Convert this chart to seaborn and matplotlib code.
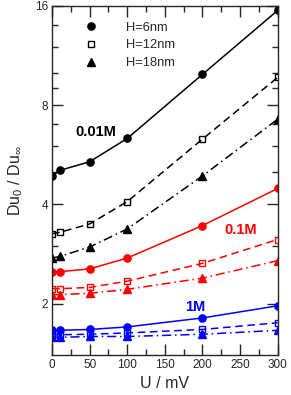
import matplotlib
matplotlib.use("Agg")
import matplotlib.pyplot as plt
from matplotlib.lines import Line2D
import matplotlib.ticker as ticker
import seaborn as sns
import pandas as pd

# applied voltage U (mV)
u_mv = [0, 10, 50, 100, 200, 300]

# Du_0 / Du_inf, 0.01M
c001_h6 = [4.88, 5.07, 5.39, 6.34, 9.92, 15.5]
c001_h12 = [3.26, 3.29, 3.49, 4.08, 6.31, 9.71]
c001_h18 = [2.75, 2.78, 2.97, 3.37, 4.88, 7.25]
# 0.1M
c01_h6 = [2.49, 2.50, 2.55, 2.75, 3.45, 4.47]
c01_h12 = [2.22, 2.22, 2.24, 2.34, 2.65, 3.13]
c01_h18 = [2.13, 2.13, 2.15, 2.21, 2.39, 2.70]
# 1M
c1_h6 = [1.66, 1.66, 1.67, 1.70, 1.81, 1.97]
c1_h12 = [1.61, 1.61, 1.615, 1.63, 1.67, 1.75]
c1_h18 = [1.58, 1.58, 1.59, 1.59, 1.615, 1.66]

conc_labels = ['0.01M', '0.1M', '1M']
h_labels = ['H=6nm', 'H=12nm', 'H=18nm']

series = {
    ('0.01M', 'H=6nm'): c001_h6, ('0.01M', 'H=12nm'): c001_h12, ('0.01M', 'H=18nm'): c001_h18,
    ('0.1M', 'H=6nm'): c01_h6, ('0.1M', 'H=12nm'): c01_h12, ('0.1M', 'H=18nm'): c01_h18,
    ('1M', 'H=6nm'): c1_h6, ('1M', 'H=12nm'): c1_h12, ('1M', 'H=18nm'): c1_h18,
}

colors = {'0.01M': 'black', '0.1M': '#ff0000', '1M': '#0000ff'}
styles = {
    'H=6nm': dict(linestyle='-', marker='o', markersize=5.2, fill=True),
    'H=12nm': dict(linestyle=(0, (5, 3)), marker='s', markersize=4.6, fill=False),
    'H=18nm': dict(linestyle=(0, (6, 2.5, 1, 2.5)), marker='^', markersize=5.2, fill=True),
}

sns.set_style("ticks")
plt.rcParams['font.family'] = ['Liberation Sans', 'DejaVu Sans']
plt.rcParams['mathtext.fontset'] = 'custom'
plt.rcParams['mathtext.rm'] = 'Liberation Sans'
plt.rcParams['mathtext.it'] = 'Liberation Sans'

fig = plt.figure(figsize=(2.91, 3.95), dpi=100)
ax = fig.add_axes([0.179, 0.102, 0.775, 0.883])

for conc in conc_labels:
    for h in h_labels:
        st = styles[h]
        c = colors[conc]
        df = pd.DataFrame({'U': u_mv, 'Du': series[(conc, h)]})
        sns.lineplot(data=df, x='U', y='Du', ax=ax, color=c, linewidth=1.1,
                     linestyle=st['linestyle'], marker=st['marker'],
                     markersize=st['markersize'], markeredgecolor=c,
                     markeredgewidth=1.0,
                     markerfacecolor=c if st['fill'] else 'none')

ax.set_yscale('log', base=2)
ax.set_xlim(0, 300)
ax.set_ylim(1.4, 16)
ax.yaxis.set_major_locator(ticker.FixedLocator([2, 4, 8, 16]))
ax.yaxis.set_minor_locator(ticker.FixedLocator([3, 5, 6, 7, 9, 10, 12, 14]))
ax.yaxis.set_major_formatter(ticker.FuncFormatter(lambda y, _: f'{int(y)}'))
ax.yaxis.set_minor_formatter(ticker.NullFormatter())
ax.xaxis.set_major_locator(ticker.MultipleLocator(50))
ax.xaxis.set_minor_locator(ticker.MultipleLocator(25))

ax.tick_params(which='both', direction='in', top=True, right=True, labelsize=8.5, width=1.0, pad=3)
ax.tick_params(which='major', length=8)
ax.tick_params(which='minor', length=4.5)
for sp in ax.spines.values():
    sp.set_linewidth(1.0)
    sp.set_visible(True)

ax.set_xlabel('U / mV', fontsize=11.5, labelpad=4)
ax.set_ylabel(r'Du$_0$ / Du$_\infty$', fontsize=11.5, labelpad=7)

ax.text(58.5, 6.64, '0.01M', color='black', fontsize=10.5, fontweight='bold', ha='center', va='center')
ax.text(251, 3.35, '0.1M', color='#ff0000', fontsize=10.5, fontweight='bold', ha='center', va='center')
ax.text(190, 1.95, '1M', color='#0000ff', fontsize=10.5, fontweight='bold', ha='center', va='center')

handles = []
for h in h_labels:
    st = styles[h]
    handles.append(Line2D([], [], linestyle='none', marker=st['marker'], color='black',
                          markersize=st['markersize'], markeredgewidth=1.0,
                          markerfacecolor='black' if st['fill'] else 'none'))
ax.legend(handles, h_labels, loc='upper left', bbox_to_anchor=(0.1, 0.985), frameon=False,
          fontsize=9.3, handlelength=1.0, handletextpad=2.2, labelspacing=0.45, borderpad=0.3)

fig.savefig('out.png', dpi=100)
